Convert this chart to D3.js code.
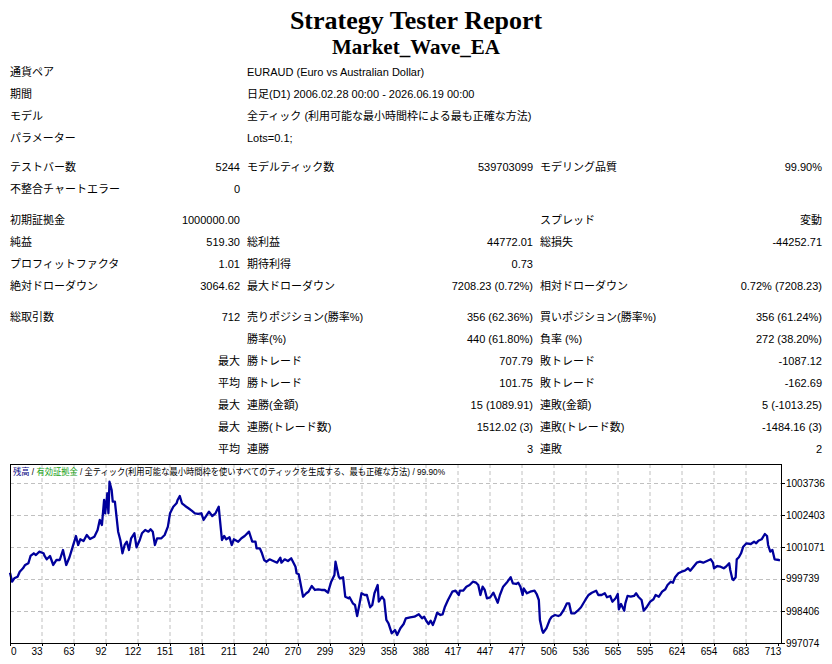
<!DOCTYPE html>
<html>
<head>
<meta charset="utf-8">
<script src="https://cdnjs.cloudflare.com/ajax/libs/d3/7.8.5/d3.min.js"></script>
<style>
  body { margin: 0; background: #fff; }
  svg text { font-family: "Liberation Sans", "Noto Sans CJK JP", sans-serif; }
</style>
</head>
<body>
<div id="vis"></div>
<script>
const w = 832, h = 664;

const title = "Strategy Tester Report";
const subtitle = "Market_Wave_EA";

// header rows: label, value
const infoRows = [
  ["通貨ペア", "EURAUD (Euro vs Australian Dollar)"],
  ["期間", "日足(D1) 2006.02.28 00:00 - 2026.06.19 00:00"],
  ["モデル", "全ティック (利用可能な最小時間枠による最も正確な方法)"],
  ["パラメーター", "Lots=0.1;"]
];
const infoY = [72, 94, 116, 138];

// result rows: 6 columns
const statRows = [
  ["テストバー数", "5244", "モデルティック数", "539703099", "モデリング品質", "99.90%"],
  ["不整合チャートエラー", "0", "", "", "", ""],
  ["初期証拠金", "1000000.00", "", "", "スプレッド", "変動"],
  ["純益", "519.30", "総利益", "44772.01", "総損失", "-44252.71"],
  ["プロフィットファクタ", "1.01", "期待利得", "0.73", "", ""],
  ["絶対ドローダウン", "3064.62", "最大ドローダウン", "7208.23 (0.72%)", "相対ドローダウン", "0.72% (7208.23)"],
  ["総取引数", "712", "売りポジション(勝率%)", "356 (62.36%)", "買いポジション(勝率%)", "356 (61.24%)"],
  ["", "", "勝率(%)", "440 (61.80%)", "負率 (%)", "272 (38.20%)"],
  ["", "最大", "勝トレード", "707.79", "敗トレード", "-1087.12"],
  ["", "平均", "勝トレード", "101.75", "敗トレード", "-162.69"],
  ["", "最大", "連勝(金額)", "15 (1089.91)", "連敗(金額)", "5 (-1013.25)"],
  ["", "最大", "連勝(トレード数)", "1512.02 (3)", "連敗(トレード数)", "-1484.16 (3)"],
  ["", "平均", "連勝", "3", "連敗", "2"]
];
const statY = [167, 189, 220, 242, 264, 286, 317, 339, 361, 383, 405, 427, 449];

// balance curve
const tradeIdx = [0,2,4,7,9,12,14,17,19,22,24,27,31,32,34,37,40,43,46,49,52,55,58,61,63,65,68,71,74,78,81,83,85,87,88,90,91,92,94,95,97,100,102,104,106,108,110,112,115,117,120,122,125,128,130,132,134,136,140,143,146,148,151,154,155,157,159,162,165,168,171,174,177,179,184,187,190,193,194,196,198,200,203,205,207,211,214,217,221,224,227,228,231,233,235,237,240,243,247,250,251,254,257,260,264,265,267,271,274,276,279,282,285,288,291,294,297,300,301,304,305,308,310,313,314,317,319,321,323,325,328,330,333,335,337,340,341,344,346,348,350,353,356,358,361,364,366,370,374,378,381,383,385,387,389,391,393,395,398,400,402,405,409,412,415,416,419,422,425,428,431,433,435,437,439,441,444,447,451,453,456,460,463,465,468,470,472,474,475,478,481,485,487,489,490,492,493,496,499,501,504,507,509,512,515,517,519,522,525,528,532,535,538,542,544,547,550,552,555,557,560,562,563,565,568,569,571,574,577,579,581,584,586,589,592,595,597,600,603,606,608,611,613,615,618,621,624,627,629,632,635,638,641,645,648,650,651,654,657,660,662,665,666,668,669,671,672,674,676,678,681,685,688,690,692,695,698,700,701,703,705,707,711,712];
const balance = [1000000,999627,999768,999835,1000043,1000185,1000322,1000393,1000697,1000809,1000738,1000876,1000809,1000697,1000559,1000697,1000322,1000530,1000530,1000947,1000322,1000643,1001084,1001529,1001155,1001392,1001321,1001571,1001405,1001500,1001779,1002196,1001988,1003029,1002475,1003308,1002475,1003791,1003445,1002958,1002958,1001709,1001363,1000809,1001155,1001292,1000947,1001434,1001642,1001059,1001363,1001642,1001779,1001709,1001808,1001709,1001155,1001434,1001434,1001571,1001917,1002475,1002750,1002891,1003029,1003195,1002891,1002779,1002683,1002583,1002475,1002446,1002475,1002196,1002541,1002362,1002475,1002750,1002267,1001363,1001529,1001392,1001475,1001155,1001392,1001292,1001434,1001529,1001709,1001292,1001292,1001017,1001017,1000809,1000530,1000459,1000559,1000501,1000418,1000626,1000418,1000559,1000488,1000601,1000251,999976,999935,999002,999144,999210,999447,999281,999310,999281,999281,999168,999627,999906,1000459,999835,999768,999810,999002,998935,998977,998727,998656,998198,998656,999144,999073,999073,998561,998656,999144,999489,998794,999002,998865,998032,997894,997478,997615,997407,997686,997865,998103,998144,998169,998269,998103,998169,997990,997865,998003,997824,998061,998336,998240,998269,998561,998865,999210,999252,999073,999252,999252,999418,999489,999627,999585,999489,999073,999418,999281,998935,998977,999168,998752,999073,999418,999627,999810,999560,999531,999585,999418,999073,999352,999144,999210,999252,999114,998865,998032,997615,997503,997686,998032,998169,998240,998198,998240,998448,998727,998727,998311,998311,998419,998561,998865,999073,999168,999252,999073,999073,999144,998977,999031,998794,998935,999114,998477,998698,998419,998727,999031,999002,999031,999144,999002,998865,998419,998586,998794,998894,999073,999002,999210,999310,999489,999627,999585,999810,999976,1000043,1000085,1000185,1000085,1000251,1000418,1000459,1000418,1000501,1000559,1000418,1000185,1000280,1000251,1000185,1000251,1000393,1000114,999726,999697,999810,1000559,1000643,1000809,1001084,1001225,1001196,1001292,1001225,1001334,1001392,1001613,1001529,1001155,1000876,1000947,1000559,1000530,1000519];

const xTicks = [0,33,63,92,122,151,181,211,240,270,299,329,358,388,417,447,477,506,536,565,595,624,654,683,713];
const yTicks = [997074,998406,999739,1001071,1002403,1003736];

const legendParts = [
  ["残高", "#000080"],
  [" / ", "#000"],
  ["有効証拠金", "#14a014"],
  [" / 全ティック(利用可能な最小時間枠を使いすべてのティックを生成する、最も正確な方法) / 99.90%", "#000"]
];

const svg = d3.select("#vis").append("svg").attr("width", w).attr("height", h);

// titles
svg.append("text").attr("x", 416).attr("y", 29).attr("text-anchor", "middle")
  .style("font-family", "'Liberation Serif', serif").style("font-weight", "bold")
  .style("font-size", "26px").text(title);
svg.append("text").attr("x", 416).attr("y", 54).attr("text-anchor", "middle")
  .style("font-family", "'Liberation Serif', serif").style("font-weight", "bold")
  .style("font-size", "21px").text(subtitle);

// table
const fs = "11px";
const tbl = svg.append("g").style("font-size", fs).attr("fill", "#000");
infoRows.forEach((r, i) => {
  tbl.append("text").attr("x", 10).attr("y", infoY[i]).attr("dy", "0.35em").text(r[0]);
  tbl.append("text").attr("x", 247).attr("y", infoY[i]).attr("dy", "0.35em").text(r[1]);
});
const colX = [10, 240, 247, 533, 540, 822];
const colAnchor = ["start", "end", "start", "end", "start", "end"];
statRows.forEach((r, i) => {
  r.forEach((c, j) => {
    if (!c) return;
    tbl.append("text").attr("x", colX[j]).attr("y", statY[i]).attr("dy", "0.35em")
      .attr("text-anchor", colAnchor[j]).text(c);
  });
});

// chart
const pLeft = 10, pRight = 781, pTop = 464, pBottom = 643;
const x = d3.scaleLinear().domain([0, 712]).range([pLeft, 780]);
const gx = d3.scalePoint().domain(xTicks).range([pLeft, 778]);
const y = d3.scaleLinear().domain([997074, 1003736]).range([pBottom, 483]);

const chart = svg.append("g");
chart.append("rect").attr("x", pLeft).attr("y", pTop).attr("width", pRight - pLeft).attr("height", pBottom - pTop)
  .attr("fill", "#fff");

chart.append("g").selectAll("line").data(xTicks.slice(1, -1)).join("line")
  .attr("x1", d => gx(d)).attr("x2", d => gx(d)).attr("y1", pTop).attr("y2", pBottom)
  .attr("stroke", "#c0c0c0").attr("stroke-dasharray", "4,3");
chart.append("g").selectAll("line").data(yTicks.slice(1)).join("line")
  .attr("x1", pLeft).attr("x2", pRight).attr("y1", d => Math.round(y(d)) + 0.5).attr("y2", d => Math.round(y(d)) + 0.5)
  .attr("stroke", "#c0c0c0").attr("stroke-dasharray", "4,3");

// legend
const leg = chart.append("text").attr("x", 13).attr("y", 472).attr("dy", "0.35em")
  .style("font-size", "9px").attr("textLength", 432).attr("lengthAdjust", "spacingAndGlyphs");
legendParts.forEach(p => leg.append("tspan").attr("fill", p[1]).text(p[0]));

chart.append("path").datum(tradeIdx.map((d, i) => [d, balance[i]]))
  .attr("fill", "none").attr("stroke", "#00009c").attr("stroke-width", 2.3)
  .attr("stroke-linejoin", "round")
  .attr("d", d3.line().x(d => x(d[0])).y(d => y(d[1])));

chart.append("rect").attr("x", pLeft + 0.5).attr("y", pTop + 0.5).attr("width", pRight - pLeft).attr("height", pBottom - pTop)
  .attr("fill", "none").attr("stroke", "#000");

// y axis labels on the right
const ya = chart.append("g").style("font-size", "10px");
ya.selectAll("line").data(yTicks).join("line")
  .attr("x1", pRight).attr("x2", pRight + 4).attr("y1", d => Math.round(y(d)) + 0.5).attr("y2", d => Math.round(y(d)) + 0.5)
  .attr("stroke", "#000");
ya.selectAll("text").data(yTicks).join("text")
  .attr("x", pRight + 5).attr("y", d => y(d)).attr("dy", "0.35em").text(d => d);

// x axis labels
const xa = chart.append("g").style("font-size", "10px");
xa.selectAll("line").data(xTicks).join("line")
  .attr("x1", d => gx(d) + 0.5).attr("x2", d => gx(d) + 0.5).attr("y1", pBottom).attr("y2", pBottom + 3)
  .attr("stroke", "#000");
xa.selectAll("text").data(xTicks).join("text")
  .attr("x", (d, i) => i === 0 ? gx(d) + 1 : gx(d) - 5)
  .attr("y", 655).attr("text-anchor", (d, i) => i === 0 ? "start" : "middle").text(d => d);
</script>
</body>
</html>
